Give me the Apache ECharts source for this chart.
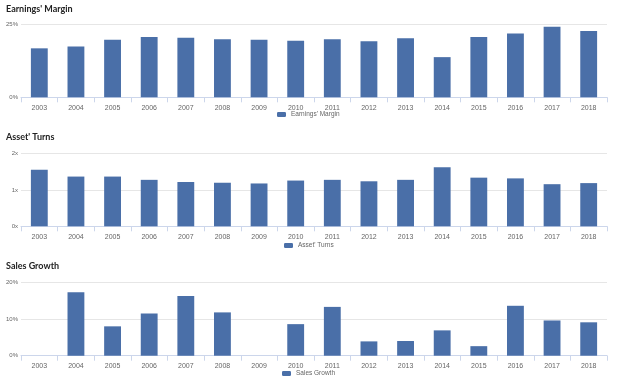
<!DOCTYPE html>
<html><head><meta charset="utf-8">
<script src="https://cdn.jsdelivr.net/npm/echarts@6/dist/echarts.min.js"></script>
<style>html,body{margin:0;padding:0;background:#fff}#c{width:624px;height:385px}</style>
</head><body><div id="c"></div>
<script>
const years = ['2003','2004','2005','2006','2007','2008','2009','2010','2011','2012','2013','2014','2015','2016','2017','2018'];
const earningsMargin = [16.7,17.3,19.6,20.6,20.3,19.8,19.6,19.3,19.8,19.1,20.1,13.7,20.6,21.8,24.1,22.6];
const assetTurns = [1.56,1.37,1.37,1.28,1.22,1.20,1.18,1.26,1.28,1.24,1.28,1.63,1.34,1.32,1.16,1.19];
const salesGrowth = [null,17.3,8.0,11.5,16.3,11.8,null,8.6,13.3,3.9,4.0,6.9,2.6,13.6,9.6,9.1];
const titles = ['Earnings\' Margin','Asset\' Turns','Sales Growth'];
const yMax = [25,2,20];
const yInterval = [25,1,10];
const ySuffix = ['%','x','%'];

const barColor = '#4a6fa8';
const grids = [
  {left:21, right:17, top:24, height:73.3},
  {left:21, right:17, top:153.7, height:72.6},
  {left:21, right:17, top:282.3, height:73.4}
];
const titleTops = [5,133,262];
const legendTops = [111,242,370];
const legendLefts = [277,284,282];
const seriesData = [earningsMargin, assetTurns, salesGrowth];

const option = {
  animation:false,
  title: titles.map((t,i)=>({text:t,left:6,top:titleTops[i],padding:0,textStyle:{fontFamily:'Lato, "Open Sans", sans-serif',fontSize:9,fontWeight:'bold',color:'#222'}})),
  legend: titles.map((t,i)=>({data:[t],left:legendLefts[i],top:legendTops[i],itemWidth:9,itemHeight:5,itemGap:4,padding:0,
    textStyle:{fontFamily:'Arial, "Liberation Sans", sans-serif',fontSize:6.5,color:'#666'}})),
  grid: grids,
  xAxis: grids.map((g,i)=>({type:'category',gridIndex:i,data:years,
    axisLine:{lineStyle:{color:'#ccd6eb'}},
    axisTick:{show:true,length:5,lineStyle:{color:'#ccd6eb'}},
    axisLabel:{fontSize:7,color:'#666',margin:7,fontFamily:'Arial, "Liberation Sans", sans-serif'}})),
  yAxis: grids.map((g,i)=>({type:'value',gridIndex:i,min:0,max:yMax[i],interval:yInterval[i],
    axisLine:{show:false},axisTick:{show:false},
    splitLine:{lineStyle:{color:'#e6e6e6'}},
    axisLabel:{fontSize:6,color:'#666',margin:3,formatter:v=>v+ySuffix[i],fontFamily:'Arial, "Liberation Sans", sans-serif'}})),
  series: seriesData.map((d,i)=>({name:titles[i],type:'bar',xAxisIndex:i,yAxisIndex:i,data:d,
    barCategoryGap:'54%',itemStyle:{color:barColor}}))
};
echarts.init(document.getElementById('c'),null,{renderer:'canvas'}).setOption(option);
</script></body></html>
